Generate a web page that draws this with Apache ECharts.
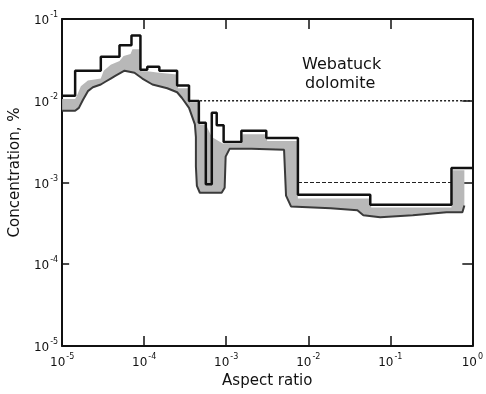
<!DOCTYPE html>
<html>
<head>
<meta charset="utf-8">
<script src="https://cdn.jsdelivr.net/npm/echarts@6/dist/echarts.min.js"></script>
<style>html,body{margin:0;padding:0;background:#fff}#c{width:486px;height:394px}</style>
</head>
<body>
<div id="c"></div>
<script>
// Upper bound (stepped outline): segment start x and level
const stepX = [1e-5, 1.44e-5, 2.96e-5, 5.0e-5, 7.0e-5, 9.0e-5, 1.09e-4, 1.53e-4, 2.52e-4, 3.52e-4, 4.64e-4, 5.64e-4, 6.67e-4, 7.66e-4, 9.3e-4, 1.53e-3, 3.08e-3, 7.48e-3, 5.7e-2, 0.557, 1.0];
const stepY = [1.15e-2, 2.33e-2, 3.45e-2, 4.77e-2, 6.3e-2, 2.4e-2, 2.6e-2, 2.33e-2, 1.54e-2, 9.9e-3, 5.4e-3, 9.5e-4, 7.15e-3, 5.0e-3, 3.13e-3, 4.3e-3, 3.49e-3, 7.1e-4, 5.35e-4, 1.5e-3, 1.5e-3];

// Shaded band: upper edge
const bandTopX = [1e-5, 1.44e-5, 1.52e-5, 1.69e-5, 2.06e-5, 2.96e-5, 3.21e-5, 3.91e-5, 5.01e-5, 5.61e-5, 6.81e-5, 7.2e-5, 9.0e-5, 9.25e-5, 1.09e-4, 1.53e-4, 2.52e-4, 2.59e-4, 3.52e-4, 3.61e-4, 4.64e-4, 4.77e-4, 5.64e-4, 6.67e-4, 9.3e-4, 1.53e-3, 1.58e-3, 3.08e-3, 3.16e-3, 7.27e-3, 7.48e-3, 5.7e-2, 5.86e-2, 0.557, 0.573, 0.80];
const bandTopY = [1.05e-2, 1.05e-2, 1.17e-2, 1.5e-2, 1.77e-2, 1.87e-2, 2.33e-2, 2.75e-2, 3.07e-2, 3.52e-2, 3.72e-2, 4.27e-2, 4.27e-2, 2.3e-2, 2.3e-2, 2.2e-2, 2.1e-2, 1.42e-2, 1.42e-2, 9.4e-3, 9.4e-3, 5.13e-3, 5.13e-3, 3.59e-3, 2.96e-3, 2.96e-3, 3.9e-3, 3.9e-3, 3.21e-3, 3.21e-3, 6.35e-4, 6.35e-4, 4.96e-4, 4.96e-4, 1.41e-3, 1.41e-3];

// Shaded band: lower edge
const bandBotX = [1e-5, 1.44e-5, 1.6e-5, 1.79e-5, 2.06e-5, 2.37e-5, 2.96e-5, 3.40e-5, 3.91e-5, 4.49e-5, 5.76e-5, 7.61e-5, 9.5e-5, 1.26e-4, 1.91e-4, 2.52e-4, 2.89e-4, 3.52e-4, 4.15e-4, 4.27e-4, 4.27e-4, 4.39e-4, 4.77e-4, 8.8e-4, 9.57e-4, 9.84e-4, 1.10e-3, 2.03e-3, 5.07e-3, 5.36e-3, 6.16e-3, 1.88e-2, 3.97e-2, 4.69e-2, 7.53e-2, 0.188, 0.485, 0.757, 0.80];
const bandBotY = [7.55e-3, 7.55e-3, 8.19e-3, 1.02e-2, 1.31e-2, 1.46e-2, 1.58e-2, 1.72e-2, 1.87e-2, 2.03e-2, 2.33e-2, 2.2e-2, 1.87e-2, 1.58e-2, 1.42e-2, 1.27e-2, 1.08e-2, 8.19e-3, 5.13e-3, 3.59e-3, 1.57e-3, 9.08e-4, 7.49e-4, 7.49e-4, 8.6e-4, 2.07e-3, 2.58e-3, 2.58e-3, 2.51e-3, 6.9e-4, 5.1e-4, 4.83e-4, 4.57e-4, 3.98e-4, 3.77e-4, 3.98e-4, 4.33e-4, 4.33e-4, 5.24e-4];

// Reference levels
const dottedX = [4.8e-4, 1.0];
const dottedY = [1e-2, 1e-2];
const dashedX = [7.5e-3, 0.55];
const dashedY = [1e-3, 1e-3];

const xTitle = 'Aspect ratio';
const yTitle = 'Concentration, %';
const noteLines = ['Webatuck', 'dolomite'];

const zip = (a, b) => a.map((v, i) => [v, b[i]]);
const F = 'DejaVu Sans';
const supFmt = v => '{b|10}{s|' + Math.round(Math.log10(v)) + '}';
const rich = {
  b: {fontSize: 12, fontFamily: F, color: '#111', lineHeight: 16, verticalAlign: 'bottom'},
  s: {fontSize: 8, fontFamily: F, color: '#111', lineHeight: 16, verticalAlign: 'top', padding: [0, 0, 0, 1]}
};
const axBase = {
  type: 'log', logBase: 10,
  axisLine: {show: true, lineStyle: {color: '#111', width: 2}},
  splitLine: {show: false}, minorTick: {show: false}
};

const chart = echarts.init(document.getElementById('c'), null, {renderer: 'canvas'});
chart.setOption({
  animation: false,
  backgroundColor: '#fff',
  grid: {left: 59, right: 13, top: 19, bottom: 40},
  xAxis: [
    Object.assign({}, axBase, {
      min: 1e-5, max: 1, position: 'bottom',
      axisTick: {inside: true, length: 10, lineStyle: {color: '#111', width: 1.5}},
      axisLabel: {formatter: supFmt, rich: rich, margin: 7},
      name: xTitle, nameLocation: 'middle', nameGap: 28,
      nameTextStyle: {fontFamily: F, fontSize: 15, color: '#111'}
    }),
    Object.assign({}, axBase, {
      min: 1e-5, max: 1, position: 'top',
      axisTick: {inside: true, length: 10, lineStyle: {color: '#111', width: 1.5}},
      axisLabel: {show: false}
    })
  ],
  yAxis: [
    Object.assign({}, axBase, {
      min: 1e-5, max: 1e-1, position: 'left',
      axisTick: {inside: true, length: 7, lineStyle: {color: '#111', width: 1.5}},
      axisLabel: {formatter: supFmt, rich: rich, margin: 4},
      name: yTitle, nameLocation: 'middle', nameGap: 31, nameRotate: 90,
      nameTextStyle: {fontFamily: F, fontSize: 15, color: '#111', padding: [0, 0, 0, 20]}
    }),
    Object.assign({}, axBase, {
      min: 1e-5, max: 1e-1, position: 'right',
      axisTick: {inside: true, length: 10, lineStyle: {color: '#111', width: 1.5}},
      axisLabel: {show: false}
    })
  ],
  series: [
    {
      type: 'custom', coordinateSystem: 'cartesian2d', xAxisIndex: 0, yAxisIndex: 0,
      data: [[1e-3, 1e-3]], silent: true, z: 1,
      renderItem: (params, api) => {
        const pts = [];
        for (let i = 0; i < bandTopX.length; i++) pts.push(api.coord([bandTopX[i], bandTopY[i]]));
        for (let i = bandBotX.length - 1; i >= 0; i--) pts.push(api.coord([bandBotX[i], bandBotY[i]]));
        return {type: 'polygon', shape: {points: pts}, style: {fill: '#b8b8b8'}};
      }
    },
    {
      type: 'line', data: zip(bandBotX, bandBotY), showSymbol: false, z: 2,
      lineStyle: {color: '#3a3a3a', width: 2}
    },
    {
      type: 'line', data: zip(stepX, stepY), step: 'end', showSymbol: false, z: 3,
      lineStyle: {color: '#111', width: 2.5}
    },
    {
      type: 'line', data: zip(dottedX, dottedY), showSymbol: false, z: 2,
      lineStyle: {color: '#222', width: 1.5, type: [2, 2]}
    },
    {
      type: 'line', data: zip(dashedX, dashedY), showSymbol: false, z: 2,
      lineStyle: {color: '#222', width: 1.2, type: [4, 2]}
    }
  ],
  graphic: [
    {type: 'text', left: 302, top: 57, style: {text: noteLines[0], font: '16px "DejaVu Sans"', fill: '#111'}},
    {type: 'text', left: 305, top: 76, style: {text: noteLines[1], font: '16px "DejaVu Sans"', fill: '#111'}}
  ]
});
</script>
</body>
</html>
